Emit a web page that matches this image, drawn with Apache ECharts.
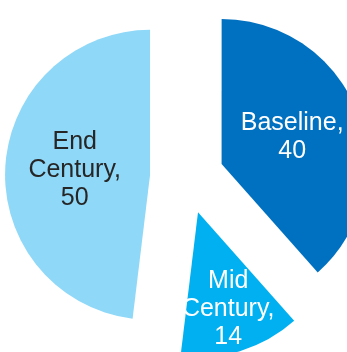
<!DOCTYPE html>
<html>
<head>
<meta charset="utf-8">
<script src="https://cdn.jsdelivr.net/npm/echarts@6/dist/echarts.min.js"></script>
<style>
  html, body { margin: 0; padding: 0; background: #ffffff; }
  #chart { width: 347px; height: 352px; }
</style>
</head>
<body>
<div id="chart"></div>
<script>
// Scenario shares, drawn clockwise from 12 o'clock
const categories = ['Baseline', 'Mid Century', 'End Century'];
const values = [40, 14, 50];
const sliceColors = ['#0070C0', '#00B0F0', '#8FD8F8'];
const labelColors = ['#ffffff', '#ffffff', '#262626'];
// extra outward push for labels of narrow slices (px)
const labelPush = [0, 26, 0];

const START_ANGLE = 90;
const total = values.reduce((a, b) => a + b, 0);

// mid-angle (degrees, counter-clockwise from 3 o'clock) of each slice
function midAngle(idx) {
  let before = 0;
  for (let i = 0; i < idx; i++) before += values[i];
  return START_ANGLE - (before + values[idx] / 2) / total * 360;
}

const chart = echarts.init(document.getElementById('chart'), null, { renderer: 'canvas' });

const data = categories.map((name, i) => ({
  name: name,
  value: values[i],
  selected: true,
  itemStyle: { color: sliceColors[i] },
  label: { color: labelColors[i] }
}));

chart.setOption({
  animation: false,
  backgroundColor: '#ffffff',
  series: [{
    type: 'pie',
    center: [187, 177],
    radius: [0, 145],
    startAngle: START_ANGLE,
    clockwise: true,
    selectedMode: 'multiple',
    selectedOffset: 37,
    silent: true,
    emphasis: { disabled: true },
    label: {
      show: true,
      position: 'inner',
      fontFamily: '"Liberation Sans", Arial, sans-serif',
      fontSize: 25,
      lineHeight: 28,
      align: 'center',
      formatter: p => p.name.replace(' ', '\n') + ',\n' + p.value
    },
    labelLayout: params => {
      const i = params.dataIndex;
      const a = midAngle(i) * Math.PI / 180;
      return { dx: Math.cos(a) * labelPush[i], dy: -Math.sin(a) * labelPush[i] };
    },
    labelLine: { show: false },
    data: data
  }]
});
</script>
</body>
</html>
